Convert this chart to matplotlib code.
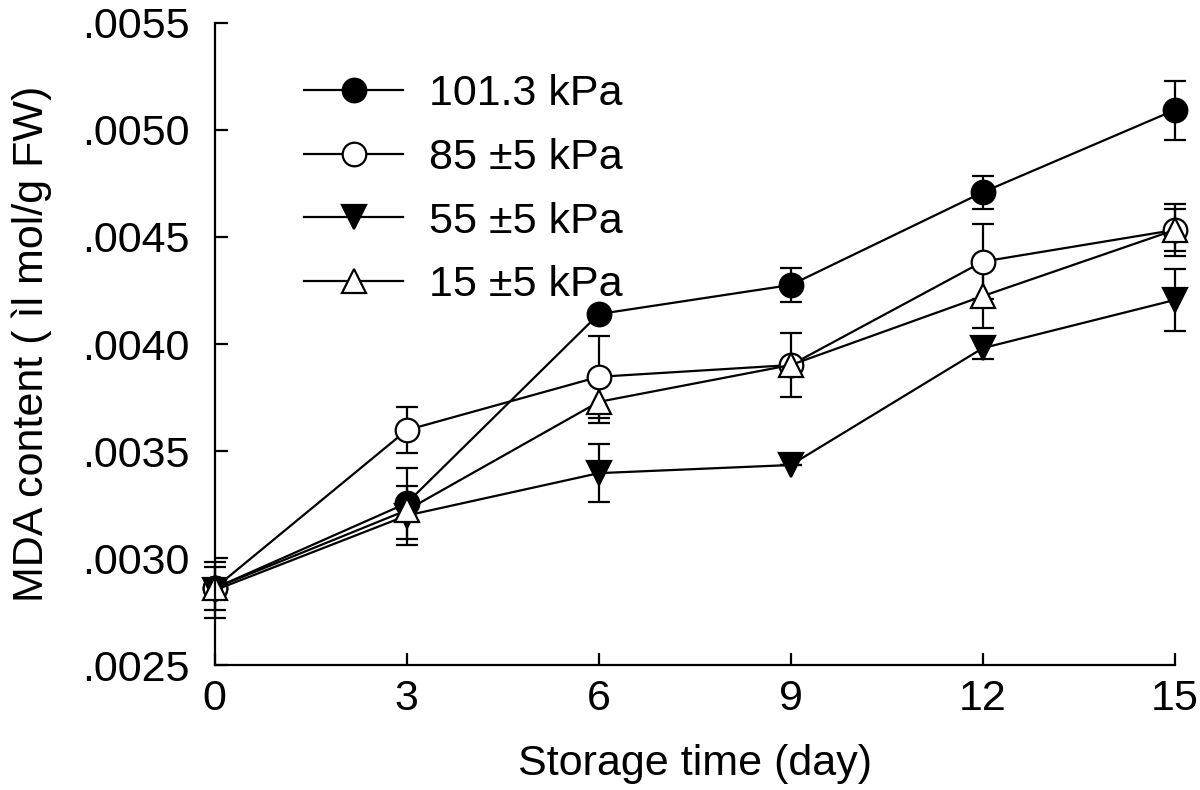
import matplotlib
matplotlib.use('Agg')
import matplotlib.pyplot as plt
from matplotlib.lines import Line2D
from matplotlib.ticker import FuncFormatter, MultipleLocator

plt.rcParams['font.family'] = ['Liberation Sans', 'DejaVu Sans']

days = [0, 3, 6, 9, 12, 15]
labels = ['101.3 kPa', '85 \u00b15 kPa', '55 \u00b15 kPa', '15 \u00b15 kPa']

mda_101 = [0.00286, 0.003257, 0.00414, 0.004276, 0.004709, 0.005093]
err_101 = [0.0001, 0.000166, 0.0, 0.00008, 0.000078, 0.000138]

mda_85 = [0.00286, 0.003598, 0.003847, 0.003902, 0.004385, 0.004533]
err_85 = [0.0, 0.000108, 0.000192, 0.000148, 0.000176, 0.00012]

mda_55 = [0.00285, 0.003199, 0.003397, 0.003435, 0.003981, 0.004206]
err_55 = [0.00013, 0.000138, 0.000136, 0.0, 0.00005, 0.000145]

mda_15 = [0.00286, 0.003224, 0.00373, 0.003902, 0.004224, 0.004533]
err_15 = [0.0, 0.00005, 0.0001, 0.0, 0.00015, 0.0001]

series = [
    (mda_101, err_101, 'o', 'black'),
    (mda_85, err_85, 'o', 'white'),
    (mda_55, err_55, 'v', 'black'),
    (mda_15, err_15, '^', 'white'),
]

fig = plt.figure(figsize=(12, 7.9), dpi=100)
ax = fig.add_axes([0.179, 0.158, 0.8, 0.813])

handles = []
for (vals, errs, mk, fc), lab in zip(series, labels):
    style = dict(color='black', lw=1.6, marker=mk, ms=17, mfc=fc,
                 mec='black', mew=1.6)
    ax.errorbar(days, vals, yerr=errs, capsize=8, capthick=1.6,
                elinewidth=1.6, clip_on=False, **style)
    handles.append(Line2D([], [], label=lab, **style))

ax.set_xlim(0, 15)
ax.set_ylim(0.0025, 0.0055)
ax.xaxis.set_major_locator(MultipleLocator(3))
ax.yaxis.set_major_locator(MultipleLocator(0.0005))
ax.yaxis.set_major_formatter(FuncFormatter(lambda v, p: f'{v:.4f}'[1:]))

for s in ['top', 'right']:
    ax.spines[s].set_visible(False)
for s in ['left', 'bottom']:
    ax.spines[s].set_linewidth(1.6)
ax.tick_params(direction='in', length=9, width=1.6, labelsize=31)
ax.tick_params(axis='y', pad=18)
ax.tick_params(axis='x', pad=10)

ax.set_xlabel('Storage time (day)', fontsize=31, labelpad=18)
ax.set_ylabel('MDA content ( \u00ecl mol/g FW)', fontsize=31, labelpad=22)

ax.legend(handles=handles, loc='upper left', bbox_to_anchor=(0.075, 0.947),
          frameon=False, fontsize=31, handlelength=2.3, handletextpad=0.6,
          labelspacing=0.55, borderaxespad=0)

fig.savefig('out.png', dpi=100)
